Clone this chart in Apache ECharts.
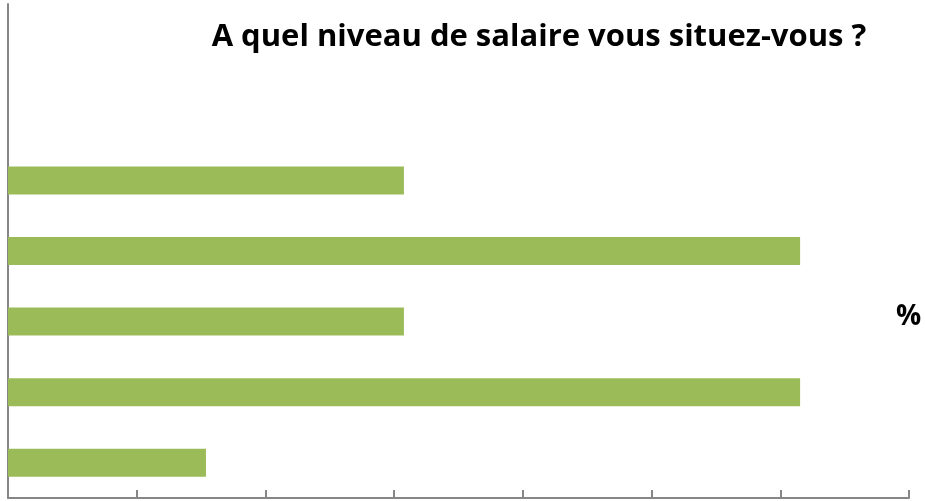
<!DOCTYPE html>
<html>
<head>
<meta charset="utf-8">
<script src="https://cdn.jsdelivr.net/npm/echarts@6/dist/echarts.min.js"></script>
<style>
  html, body { margin: 0; padding: 0; background: #ffffff; }
  #chart { width: 925px; height: 501px; }
</style>
</head>
<body>
<div id="chart"></div>
<script>
// Salary brackets, listed top to bottom (labels are not displayed)
const categories = ['Tranche 1', 'Tranche 2', 'Tranche 3', 'Tranche 4', 'Tranche 5', 'Tranche 6', 'Tranche 7'];
// Share of respondents per bracket, in %
const values = [null, null, 15.38, 30.77, 15.38, 30.77, 7.69];
// Value axis range and tick step (tick labels hidden)
const axisMin = 0;
const axisMax = 35;
const axisStep = 5;

const chart = echarts.init(document.getElementById('chart'), null, { renderer: 'canvas' });

chart.setOption({
  animation: false,
  backgroundColor: '#ffffff',
  title: {
    text: 'A quel niveau de salaire vous situez-vous ?',
    left: 534,
    textAlign: 'center',
    top: 17,
    textStyle: {
      fontFamily: 'Open Sans',
      fontWeight: 'bold',
      fontSize: 31,
      color: '#000000'
    }
  },
  graphic: [{
    type: 'text',
    left: 896,
    top: 303,
    style: {
      text: '%',
      fontFamily: 'Open Sans',
      fontWeight: 'bold',
      fontSize: 28,
      fill: '#000000'
    }
  }],
  grid: { left: 8, right: 16, top: 4, bottom: 3, containLabel: false },
  xAxis: {
    type: 'value',
    min: axisMin,
    max: axisMax,
    interval: axisStep,
    axisLine: { show: true, lineStyle: { color: '#868686', width: 2 } },
    axisTick: { show: true, inside: true, length: 8, lineStyle: { color: '#868686', width: 2 } },
    axisLabel: { show: false },
    splitLine: { show: false }
  },
  yAxis: {
    type: 'category',
    inverse: true,
    data: categories,
    axisLine: { show: true, lineStyle: { color: '#868686', width: 2 } },
    axisTick: { show: false },
    axisLabel: { show: false },
    splitLine: { show: false }
  },
  series: [{
    type: 'bar',
    data: values,
    barWidth: 28,
    itemStyle: { color: '#9BBB59' }
  }]
});
</script>
</body>
</html>
